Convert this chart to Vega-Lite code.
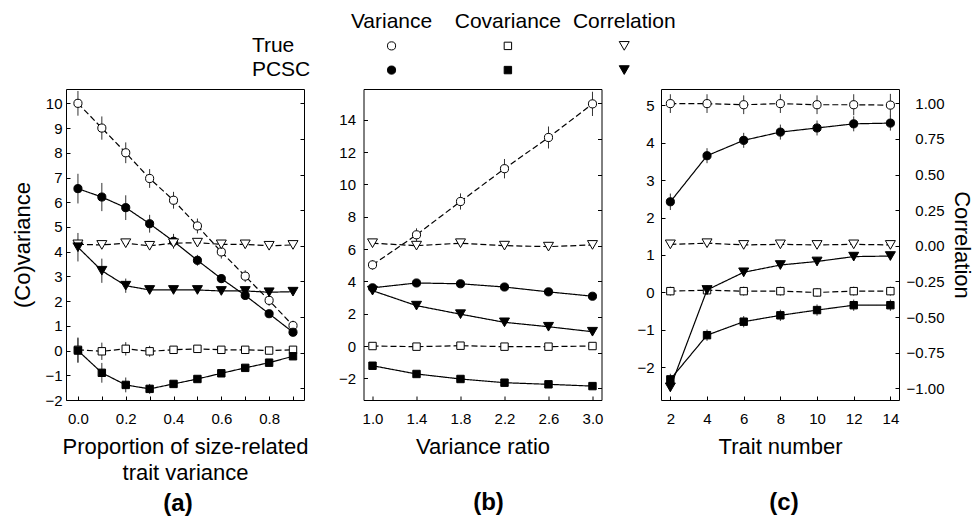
{
  "$schema": "https://vega.github.io/schema/vega-lite/v6.json",
  "padding": {"left": 11, "top": 0, "right": 0, "bottom": 0},
  "config": {
    "font": "Liberation Sans",
    "view": {"stroke": "black", "strokeWidth": 1},
    "axis": {"domain": false, "grid": false, "ticks": true, "tickSize": -4, "tickColor": "black", "tickWidth": 1, "labelFontSize": 15, "labelColor": "black", "labelPadding": 15, "labelOverlap": false, "labelFlush": false, "titleFontSize": 22, "titleFontWeight": "normal", "titleColor": "black", "titlePadding": 10},
    "title": {"fontSize": 24, "fontWeight": "bold", "color": "black"}
  },
  "datasets": {
    "pts": [
      {"p":"a","x":0,"s":"Variance","m":"True","v":10,"e":0.5},
      {"p":"a","x":0.1,"s":"Variance","m":"True","v":9,"e":0.47},
      {"p":"a","x":0.2,"s":"Variance","m":"True","v":8,"e":0.42},
      {"p":"a","x":0.3,"s":"Variance","m":"True","v":6.96,"e":0.38},
      {"p":"a","x":0.4,"s":"Variance","m":"True","v":6.08,"e":0.34},
      {"p":"a","x":0.5,"s":"Variance","m":"True","v":5.04,"e":0.3},
      {"p":"a","x":0.6,"s":"Variance","m":"True","v":3.99,"e":0.27},
      {"p":"a","x":0.7,"s":"Variance","m":"True","v":3.01,"e":0.24},
      {"p":"a","x":0.8,"s":"Variance","m":"True","v":2.03,"e":0.22},
      {"p":"a","x":0.9,"s":"Variance","m":"True","v":1.01,"e":0.2},
      {"p":"a","x":0,"s":"Variance","m":"PCSC","v":6.55,"e":0.6},
      {"p":"a","x":0.1,"s":"Variance","m":"PCSC","v":6.21,"e":0.57},
      {"p":"a","x":0.2,"s":"Variance","m":"PCSC","v":5.78,"e":0.5},
      {"p":"a","x":0.3,"s":"Variance","m":"PCSC","v":5.13,"e":0.36},
      {"p":"a","x":0.4,"s":"Variance","m":"PCSC","v":4.42,"e":0.3},
      {"p":"a","x":0.5,"s":"Variance","m":"PCSC","v":3.65,"e":0.22},
      {"p":"a","x":0.6,"s":"Variance","m":"PCSC","v":2.91,"e":0.18},
      {"p":"a","x":0.7,"s":"Variance","m":"PCSC","v":2.23,"e":0.15},
      {"p":"a","x":0.8,"s":"Variance","m":"PCSC","v":1.49,"e":0.12},
      {"p":"a","x":0.9,"s":"Variance","m":"PCSC","v":0.74,"e":0.1},
      {"p":"a","x":0,"s":"Covariance","m":"True","v":0.03,"e":0.5},
      {"p":"a","x":0.1,"s":"Covariance","m":"True","v":-0.03,"e":0.35},
      {"p":"a","x":0.2,"s":"Covariance","m":"True","v":0.07,"e":0.27},
      {"p":"a","x":0.3,"s":"Covariance","m":"True","v":-0.03,"e":0.22},
      {"p":"a","x":0.4,"s":"Covariance","m":"True","v":0.03,"e":0.15},
      {"p":"a","x":0.5,"s":"Covariance","m":"True","v":0.07,"e":0.12},
      {"p":"a","x":0.6,"s":"Covariance","m":"True","v":0.03,"e":0.1},
      {"p":"a","x":0.7,"s":"Covariance","m":"True","v":0.03,"e":0.1},
      {"p":"a","x":0.8,"s":"Covariance","m":"True","v":0,"e":0.08},
      {"p":"a","x":0.9,"s":"Covariance","m":"True","v":0.03,"e":0.08},
      {"p":"a","x":0,"s":"Covariance","m":"PCSC","v":0,"e":0.5},
      {"p":"a","x":0.1,"s":"Covariance","m":"PCSC","v":-0.9,"e":0.4},
      {"p":"a","x":0.2,"s":"Covariance","m":"PCSC","v":-1.39,"e":0.3},
      {"p":"a","x":0.3,"s":"Covariance","m":"PCSC","v":-1.55,"e":0.2},
      {"p":"a","x":0.4,"s":"Covariance","m":"PCSC","v":-1.35,"e":0.12},
      {"p":"a","x":0.5,"s":"Covariance","m":"PCSC","v":-1.15,"e":0.1},
      {"p":"a","x":0.6,"s":"Covariance","m":"PCSC","v":-0.92,"e":0.1},
      {"p":"a","x":0.7,"s":"Covariance","m":"PCSC","v":-0.7,"e":0.08},
      {"p":"a","x":0.8,"s":"Covariance","m":"PCSC","v":-0.49,"e":0.08},
      {"p":"a","x":0.9,"s":"Covariance","m":"PCSC","v":-0.23,"e":0.06},
      {"p":"a","x":0,"s":"Correlation","m":"True","v":0.01,"e":0.02},
      {"p":"a","x":0.1,"s":"Correlation","m":"True","v":0.006,"e":0.02},
      {"p":"a","x":0.2,"s":"Correlation","m":"True","v":0.018,"e":0.02},
      {"p":"a","x":0.3,"s":"Correlation","m":"True","v":0,"e":0.02},
      {"p":"a","x":0.4,"s":"Correlation","m":"True","v":0.018,"e":0.02},
      {"p":"a","x":0.5,"s":"Correlation","m":"True","v":0.022,"e":0.02},
      {"p":"a","x":0.6,"s":"Correlation","m":"True","v":0.01,"e":0.02},
      {"p":"a","x":0.7,"s":"Correlation","m":"True","v":0.01,"e":0.02},
      {"p":"a","x":0.8,"s":"Correlation","m":"True","v":0,"e":0.02},
      {"p":"a","x":0.9,"s":"Correlation","m":"True","v":0.006,"e":0.02},
      {"p":"a","x":0,"s":"Correlation","m":"PCSC","v":-0.01,"e":0.1},
      {"p":"a","x":0.1,"s":"Correlation","m":"PCSC","v":-0.175,"e":0.085},
      {"p":"a","x":0.2,"s":"Correlation","m":"PCSC","v":-0.28,"e":0.05},
      {"p":"a","x":0.3,"s":"Correlation","m":"PCSC","v":-0.31,"e":0.03},
      {"p":"a","x":0.4,"s":"Correlation","m":"PCSC","v":-0.31,"e":0.02},
      {"p":"a","x":0.5,"s":"Correlation","m":"PCSC","v":-0.31,"e":0.02},
      {"p":"a","x":0.6,"s":"Correlation","m":"PCSC","v":-0.317,"e":0.02},
      {"p":"a","x":0.7,"s":"Correlation","m":"PCSC","v":-0.317,"e":0.02},
      {"p":"a","x":0.8,"s":"Correlation","m":"PCSC","v":-0.326,"e":0.02},
      {"p":"a","x":0.9,"s":"Correlation","m":"PCSC","v":-0.322,"e":0.02},

      {"p":"b","x":1.0,"s":"Variance","m":"True","v":5.02,"e":0.3},
      {"p":"b","x":1.4,"s":"Variance","m":"True","v":6.88,"e":0.4},
      {"p":"b","x":1.8,"s":"Variance","m":"True","v":8.94,"e":0.5},
      {"p":"b","x":2.2,"s":"Variance","m":"True","v":10.97,"e":0.6},
      {"p":"b","x":2.6,"s":"Variance","m":"True","v":12.9,"e":0.68},
      {"p":"b","x":3.0,"s":"Variance","m":"True","v":14.98,"e":0.75},
      {"p":"b","x":1.0,"s":"Variance","m":"PCSC","v":3.6,"e":0.15},
      {"p":"b","x":1.4,"s":"Variance","m":"PCSC","v":3.9,"e":0.15},
      {"p":"b","x":1.8,"s":"Variance","m":"PCSC","v":3.85,"e":0.15},
      {"p":"b","x":2.2,"s":"Variance","m":"PCSC","v":3.65,"e":0.15},
      {"p":"b","x":2.6,"s":"Variance","m":"PCSC","v":3.35,"e":0.15},
      {"p":"b","x":3.0,"s":"Variance","m":"PCSC","v":3.08,"e":0.15},
      {"p":"b","x":1.0,"s":"Covariance","m":"True","v":0,"e":0.1},
      {"p":"b","x":1.4,"s":"Covariance","m":"True","v":-0.04,"e":0.1},
      {"p":"b","x":1.8,"s":"Covariance","m":"True","v":0.02,"e":0.1},
      {"p":"b","x":2.2,"s":"Covariance","m":"True","v":-0.04,"e":0.1},
      {"p":"b","x":2.6,"s":"Covariance","m":"True","v":-0.04,"e":0.1},
      {"p":"b","x":3.0,"s":"Covariance","m":"True","v":0,"e":0.1},
      {"p":"b","x":1.0,"s":"Covariance","m":"PCSC","v":-1.22,"e":0.1},
      {"p":"b","x":1.4,"s":"Covariance","m":"PCSC","v":-1.73,"e":0.1},
      {"p":"b","x":1.8,"s":"Covariance","m":"PCSC","v":-2.04,"e":0.1},
      {"p":"b","x":2.2,"s":"Covariance","m":"PCSC","v":-2.27,"e":0.1},
      {"p":"b","x":2.6,"s":"Covariance","m":"PCSC","v":-2.37,"e":0.1},
      {"p":"b","x":3.0,"s":"Covariance","m":"PCSC","v":-2.48,"e":0.1},
      {"p":"b","x":1.0,"s":"Correlation","m":"True","v":0.018,"e":0.02},
      {"p":"b","x":1.4,"s":"Correlation","m":"True","v":0.001,"e":0.02},
      {"p":"b","x":1.8,"s":"Correlation","m":"True","v":0.018,"e":0.02},
      {"p":"b","x":2.2,"s":"Correlation","m":"True","v":0.001,"e":0.02},
      {"p":"b","x":2.6,"s":"Correlation","m":"True","v":-0.006,"e":0.02},
      {"p":"b","x":3.0,"s":"Correlation","m":"True","v":0.006,"e":0.02},
      {"p":"b","x":1.0,"s":"Correlation","m":"PCSC","v":-0.315,"e":0.02},
      {"p":"b","x":1.4,"s":"Correlation","m":"PCSC","v":-0.42,"e":0.02},
      {"p":"b","x":1.8,"s":"Correlation","m":"PCSC","v":-0.48,"e":0.02},
      {"p":"b","x":2.2,"s":"Correlation","m":"PCSC","v":-0.537,"e":0.02},
      {"p":"b","x":2.6,"s":"Correlation","m":"PCSC","v":-0.568,"e":0.02},
      {"p":"b","x":3.0,"s":"Correlation","m":"PCSC","v":-0.603,"e":0.02},

      {"p":"c","x":2,"s":"Variance","m":"True","v":5.04,"e":0.25},
      {"p":"c","x":4,"s":"Variance","m":"True","v":5.04,"e":0.25},
      {"p":"c","x":6,"s":"Variance","m":"True","v":5.01,"e":0.25},
      {"p":"c","x":8,"s":"Variance","m":"True","v":5.04,"e":0.25},
      {"p":"c","x":10,"s":"Variance","m":"True","v":5.01,"e":0.25},
      {"p":"c","x":12,"s":"Variance","m":"True","v":5.01,"e":0.28},
      {"p":"c","x":14,"s":"Variance","m":"True","v":5.0,"e":0.3},
      {"p":"c","x":2,"s":"Variance","m":"PCSC","v":2.42,"e":0.22},
      {"p":"c","x":4,"s":"Variance","m":"PCSC","v":3.65,"e":0.2},
      {"p":"c","x":6,"s":"Variance","m":"PCSC","v":4.06,"e":0.2},
      {"p":"c","x":8,"s":"Variance","m":"PCSC","v":4.28,"e":0.2},
      {"p":"c","x":10,"s":"Variance","m":"PCSC","v":4.39,"e":0.2},
      {"p":"c","x":12,"s":"Variance","m":"PCSC","v":4.5,"e":0.2},
      {"p":"c","x":14,"s":"Variance","m":"PCSC","v":4.52,"e":0.2},
      {"p":"c","x":2,"s":"Covariance","m":"True","v":0.035,"e":0.12},
      {"p":"c","x":4,"s":"Covariance","m":"True","v":0.06,"e":0.12},
      {"p":"c","x":6,"s":"Covariance","m":"True","v":0.035,"e":0.12},
      {"p":"c","x":8,"s":"Covariance","m":"True","v":0.035,"e":0.12},
      {"p":"c","x":10,"s":"Covariance","m":"True","v":0,"e":0.12},
      {"p":"c","x":12,"s":"Covariance","m":"True","v":0.035,"e":0.12},
      {"p":"c","x":14,"s":"Covariance","m":"True","v":0.035,"e":0.12},
      {"p":"c","x":2,"s":"Covariance","m":"PCSC","v":-2.32,"e":0.15},
      {"p":"c","x":4,"s":"Covariance","m":"PCSC","v":-1.14,"e":0.15},
      {"p":"c","x":6,"s":"Covariance","m":"PCSC","v":-0.78,"e":0.15},
      {"p":"c","x":8,"s":"Covariance","m":"PCSC","v":-0.61,"e":0.15},
      {"p":"c","x":10,"s":"Covariance","m":"PCSC","v":-0.47,"e":0.15},
      {"p":"c","x":12,"s":"Covariance","m":"PCSC","v":-0.34,"e":0.15},
      {"p":"c","x":14,"s":"Covariance","m":"PCSC","v":-0.34,"e":0.15},
      {"p":"c","x":2,"s":"Correlation","m":"True","v":0.01,"e":0.02},
      {"p":"c","x":4,"s":"Correlation","m":"True","v":0.018,"e":0.02},
      {"p":"c","x":6,"s":"Correlation","m":"True","v":0.006,"e":0.02},
      {"p":"c","x":8,"s":"Correlation","m":"True","v":0.01,"e":0.02},
      {"p":"c","x":10,"s":"Correlation","m":"True","v":0.006,"e":0.02},
      {"p":"c","x":12,"s":"Correlation","m":"True","v":0.01,"e":0.02},
      {"p":"c","x":14,"s":"Correlation","m":"True","v":0.006,"e":0.02},
      {"p":"c","x":2,"s":"Correlation","m":"PCSC","v":-0.993,"e":0.03},
      {"p":"c","x":4,"s":"Correlation","m":"PCSC","v":-0.31,"e":0.03},
      {"p":"c","x":6,"s":"Correlation","m":"PCSC","v":-0.186,"e":0.03},
      {"p":"c","x":8,"s":"Correlation","m":"PCSC","v":-0.135,"e":0.03},
      {"p":"c","x":10,"s":"Correlation","m":"PCSC","v":-0.11,"e":0.03},
      {"p":"c","x":12,"s":"Correlation","m":"PCSC","v":-0.076,"e":0.03},
      {"p":"c","x":14,"s":"Correlation","m":"PCSC","v":-0.072,"e":0.03}
    ],
    "key": [
      {"kind":"header","label":"Variance","col":1,"row":0},
      {"kind":"header","label":"Covariance","col":2,"row":0},
      {"kind":"header","label":"Correlation","col":3,"row":0},
      {"kind":"rowlabel","label":"True","col":0,"row":1},
      {"kind":"rowlabel","label":"PCSC","col":0,"row":2},
      {"kind":"symbol","s":"Variance","m":"True","col":1,"row":1},
      {"kind":"symbol","s":"Covariance","m":"True","col":2,"row":1},
      {"kind":"symbol","s":"Correlation","m":"True","col":3,"row":1},
      {"kind":"symbol","s":"Variance","m":"PCSC","col":1,"row":2},
      {"kind":"symbol","s":"Covariance","m":"PCSC","col":2,"row":2},
      {"kind":"symbol","s":"Correlation","m":"PCSC","col":3,"row":2}
    ]
  },
  "bounds": "flush",
  "spacing": 9,
  "vconcat": [
    {
      "width": 832,
      "height": 80,
      "view": {"stroke": null},
      "data": {"name": "key"},
      "encoding": {
        "x": {"field": "col", "type": "quantitative", "scale": {"domain": [-1.798, 5.353], "nice": false, "zero": false}, "axis": null},
        "y": {"field": "row", "type": "quantitative", "scale": {"domain": [-0.896, 2.41], "nice": false, "zero": false, "reverse": true}, "axis": null}
      },
      "layer": [
        {
          "transform": [{"filter": "datum.kind == 'header'"}],
          "mark": {"type": "text", "fontSize": 21, "align": "center", "baseline": "middle", "color": "black"},
          "encoding": {"text": {"field": "label"}}
        },
        {
          "transform": [{"filter": "datum.kind == 'rowlabel'"}],
          "mark": {"type": "text", "fontSize": 21, "align": "left", "baseline": "middle", "dx": -23.3, "color": "black"},
          "encoding": {"text": {"field": "label"}}
        },
        {
          "transform": [{"filter": "datum.kind == 'symbol'"}],
          "mark": {"type": "point", "filled": true, "stroke": "black", "strokeWidth": 1, "opacity": 1},
          "encoding": {
            "shape": {"field": "s", "type": "nominal", "scale": {"domain": ["Variance", "Covariance", "Correlation"], "range": ["circle", "square", "triangle-down"]}, "legend": null},
            "fill": {"field": "m", "type": "nominal", "scale": {"domain": ["True", "PCSC"], "range": ["white", "black"]}, "legend": null},
            "size": {"field": "s", "type": "nominal", "scale": {"type": "ordinal", "domain": ["Variance", "Covariance", "Correlation"], "range": [66, 55, 100]}, "legend": null}
          }
        }
      ]
    },
    {
      "data": {"name": "pts"},
      "bounds": "flush",
      "spacing": 59.5,
      "hconcat": [
        {
          "width": 238,
          "height": 311,
          "title": {"text": "(a)", "orient": "bottom", "frame": "group", "offset": 8, "anchor": "middle", "dx": -7},
          "transform": [{"filter": "datum.p == 'a'"}],
          "encoding": {
            "x": {"field": "x", "type": "quantitative", "scale": {"domain": [-0.05, 0.946], "nice": false, "zero": false},
                  "axis": {"values": [0, 0.1, 0.2, 0.3, 0.4, 0.5, 0.6, 0.7, 0.8, 0.9], "labelExpr": "round(datum.value * 10) % 2 == 0 ? format(datum.value, '.1f') : ''", "title": ["Proportion of size-related", "trait variance"], "titleLineHeight": 26.6}}
          },
          "layer": [
            {
              "transform": [{"filter": "datum.s != 'Correlation'"}],
              "encoding": {
                "y": {"field": "v", "type": "quantitative", "scale": {"domain": [-2.0, 10.58], "nice": false, "zero": false},
                      "axis": {"orient": "left", "values": [-2, -1, 0, 1, 2, 3, 4, 5, 6, 7, 8, 9, 10], "format": "d", "title": "(Co)variance", "labelPadding": 8}}
              },
              "layer": [
                {"mark": {"type": "line", "color": "black", "strokeWidth": 1.2},
                 "encoding": {"detail": {"field": "s"}, "strokeDash": {"field": "m", "type": "nominal", "scale": {"domain": ["True", "PCSC"], "range": [[6, 3], [1, 0]]}, "legend": null}}},
                {"mark": {"type": "errorbar", "color": "#333333", "thickness": 1}, "encoding": {"yError": {"field": "e"}}},
                {"mark": {"type": "point", "filled": true, "stroke": "black", "strokeWidth": 1, "opacity": 1},
                 "encoding": {
                   "shape": {"field": "s", "type": "nominal", "scale": {"domain": ["Variance", "Covariance", "Correlation"], "range": ["circle", "square", "triangle-down"]}, "legend": null},
                   "fill": {"field": "m", "type": "nominal", "scale": {"domain": ["True", "PCSC"], "range": ["white", "black"]}, "legend": null},
                   "size": {"field": "s", "type": "nominal", "scale": {"type": "ordinal", "domain": ["Variance", "Covariance", "Correlation"], "range": [66, 55, 100]}, "legend": null}
                 }}
              ]
            },
            {
              "transform": [{"filter": "datum.s == 'Correlation'"}],
              "encoding": {
                "y": {"field": "v", "type": "quantitative", "scale": {"domain": [-1.082, 1.1], "nice": false, "zero": false},
                      "axis": {"orient": "right", "values": [-1, -0.75, -0.5, -0.25, 0, 0.25, 0.5, 0.75, 1], "labels": false, "title": null}}
              },
              "layer": [
                {"mark": {"type": "line", "color": "black", "strokeWidth": 1.2},
                 "encoding": {"detail": {"field": "s"}, "strokeDash": {"field": "m", "type": "nominal", "scale": {"domain": ["True", "PCSC"], "range": [[6, 3], [1, 0]]}, "legend": null}}},
                {"mark": {"type": "errorbar", "color": "#333333", "thickness": 1}, "encoding": {"yError": {"field": "e"}}},
                {"mark": {"type": "point", "filled": true, "stroke": "black", "strokeWidth": 1, "opacity": 1},
                 "encoding": {
                   "shape": {"field": "s", "type": "nominal", "scale": {"domain": ["Variance", "Covariance", "Correlation"], "range": ["circle", "square", "triangle-down"]}, "legend": null},
                   "fill": {"field": "m", "type": "nominal", "scale": {"domain": ["True", "PCSC"], "range": ["white", "black"]}, "legend": null},
                   "size": {"field": "s", "type": "nominal", "scale": {"type": "ordinal", "domain": ["Variance", "Covariance", "Correlation"], "range": [66, 55, 100]}, "legend": null}
                 }}
              ]
            }
          ],
          "resolve": {"scale": {"y": "independent"}}
        },
        {
          "width": 238,
          "height": 311,
          "title": {"text": "(b)", "orient": "bottom", "frame": "group", "offset": 34, "anchor": "middle", "dx": 6},
          "transform": [{"filter": "datum.p == 'b'"}],
          "encoding": {
            "x": {"field": "x", "type": "quantitative", "scale": {"domain": [0.918, 3.082], "nice": false, "zero": false},
                  "axis": {"values": [1.0, 1.4, 1.8, 2.2, 2.6, 3.0], "format": ".1f", "title": "Variance ratio"}}
          },
          "layer": [
            {
              "transform": [{"filter": "datum.s != 'Correlation'"}],
              "encoding": {
                "y": {"field": "v", "type": "quantitative", "scale": {"domain": [-3.34, 15.9], "nice": false, "zero": false},
                      "axis": {"orient": "left", "values": [-2, 0, 2, 4, 6, 8, 10, 12, 14], "format": "d", "title": null, "labelPadding": 12}}
              },
              "layer": [
                {"mark": {"type": "line", "color": "black", "strokeWidth": 1.2},
                 "encoding": {"detail": {"field": "s"}, "strokeDash": {"field": "m", "type": "nominal", "scale": {"domain": ["True", "PCSC"], "range": [[6, 3], [1, 0]]}, "legend": null}}},
                {"mark": {"type": "errorbar", "color": "#333333", "thickness": 1}, "encoding": {"yError": {"field": "e"}}},
                {"mark": {"type": "point", "filled": true, "stroke": "black", "strokeWidth": 1, "opacity": 1},
                 "encoding": {
                   "shape": {"field": "s", "type": "nominal", "scale": {"domain": ["Variance", "Covariance", "Correlation"], "range": ["circle", "square", "triangle-down"]}, "legend": null},
                   "fill": {"field": "m", "type": "nominal", "scale": {"domain": ["True", "PCSC"], "range": ["white", "black"]}, "legend": null},
                   "size": {"field": "s", "type": "nominal", "scale": {"type": "ordinal", "domain": ["Variance", "Covariance", "Correlation"], "range": [66, 55, 100]}, "legend": null}
                 }}
              ]
            },
            {
              "transform": [{"filter": "datum.s == 'Correlation'"}],
              "encoding": {
                "y": {"field": "v", "type": "quantitative", "scale": {"domain": [-1.082, 1.1], "nice": false, "zero": false},
                      "axis": {"orient": "right", "values": [-1, -0.75, -0.5, -0.25, 0, 0.25, 0.5, 0.75, 1], "labels": false, "title": null}}
              },
              "layer": [
                {"mark": {"type": "line", "color": "black", "strokeWidth": 1.2},
                 "encoding": {"detail": {"field": "s"}, "strokeDash": {"field": "m", "type": "nominal", "scale": {"domain": ["True", "PCSC"], "range": [[6, 3], [1, 0]]}, "legend": null}}},
                {"mark": {"type": "errorbar", "color": "#333333", "thickness": 1}, "encoding": {"yError": {"field": "e"}}},
                {"mark": {"type": "point", "filled": true, "stroke": "black", "strokeWidth": 1, "opacity": 1},
                 "encoding": {
                   "shape": {"field": "s", "type": "nominal", "scale": {"domain": ["Variance", "Covariance", "Correlation"], "range": ["circle", "square", "triangle-down"]}, "legend": null},
                   "fill": {"field": "m", "type": "nominal", "scale": {"domain": ["True", "PCSC"], "range": ["white", "black"]}, "legend": null},
                   "size": {"field": "s", "type": "nominal", "scale": {"type": "ordinal", "domain": ["Variance", "Covariance", "Correlation"], "range": [66, 55, 100]}, "legend": null}
                 }}
              ]
            }
          ],
          "resolve": {"scale": {"y": "independent"}}
        },
        {
          "width": 238,
          "height": 311,
          "title": {"text": "(c)", "orient": "bottom", "frame": "group", "offset": 34, "anchor": "middle", "dx": 4},
          "transform": [{"filter": "datum.p == 'c'"}],
          "encoding": {
            "x": {"field": "x", "type": "quantitative", "scale": {"domain": [1.49, 14.47], "nice": false, "zero": false},
                  "axis": {"values": [2, 4, 6, 8, 10, 12, 14], "format": "d", "title": "Trait number"}}
          },
          "layer": [
            {
              "transform": [{"filter": "datum.s != 'Correlation'"}],
              "encoding": {
                "y": {"field": "v", "type": "quantitative", "scale": {"domain": [-2.87, 5.43], "nice": false, "zero": false},
                      "axis": {"orient": "left", "values": [-2, -1, 0, 1, 2, 3, 4, 5], "format": "d", "title": null, "labelPadding": 11}}
              },
              "layer": [
                {"mark": {"type": "line", "color": "black", "strokeWidth": 1.2},
                 "encoding": {"detail": {"field": "s"}, "strokeDash": {"field": "m", "type": "nominal", "scale": {"domain": ["True", "PCSC"], "range": [[6, 3], [1, 0]]}, "legend": null}}},
                {"mark": {"type": "errorbar", "color": "#333333", "thickness": 1}, "encoding": {"yError": {"field": "e"}}},
                {"mark": {"type": "point", "filled": true, "stroke": "black", "strokeWidth": 1, "opacity": 1},
                 "encoding": {
                   "shape": {"field": "s", "type": "nominal", "scale": {"domain": ["Variance", "Covariance", "Correlation"], "range": ["circle", "square", "triangle-down"]}, "legend": null},
                   "fill": {"field": "m", "type": "nominal", "scale": {"domain": ["True", "PCSC"], "range": ["white", "black"]}, "legend": null},
                   "size": {"field": "s", "type": "nominal", "scale": {"type": "ordinal", "domain": ["Variance", "Covariance", "Correlation"], "range": [66, 55, 100]}, "legend": null}
                 }}
              ]
            },
            {
              "transform": [{"filter": "datum.s == 'Correlation'"}],
              "encoding": {
                "y": {"field": "v", "type": "quantitative", "scale": {"domain": [-1.082, 1.1], "nice": false, "zero": false},
                      "axis": {"orient": "right", "values": [-1, -0.75, -0.5, -0.25, 0, 0.25, 0.5, 0.75, 1], "format": ".2f", "labelAlign": "right", "labelPadding": 49, "title": "Correlation", "titlePadding": 5}}
              },
              "layer": [
                {"mark": {"type": "line", "color": "black", "strokeWidth": 1.2},
                 "encoding": {"detail": {"field": "s"}, "strokeDash": {"field": "m", "type": "nominal", "scale": {"domain": ["True", "PCSC"], "range": [[6, 3], [1, 0]]}, "legend": null}}},
                {"mark": {"type": "errorbar", "color": "#333333", "thickness": 1}, "encoding": {"yError": {"field": "e"}}},
                {"mark": {"type": "point", "filled": true, "stroke": "black", "strokeWidth": 1, "opacity": 1},
                 "encoding": {
                   "shape": {"field": "s", "type": "nominal", "scale": {"domain": ["Variance", "Covariance", "Correlation"], "range": ["circle", "square", "triangle-down"]}, "legend": null},
                   "fill": {"field": "m", "type": "nominal", "scale": {"domain": ["True", "PCSC"], "range": ["white", "black"]}, "legend": null},
                   "size": {"field": "s", "type": "nominal", "scale": {"type": "ordinal", "domain": ["Variance", "Covariance", "Correlation"], "range": [66, 55, 100]}, "legend": null}
                 }}
              ]
            }
          ],
          "resolve": {"scale": {"y": "independent"}}
        }
      ]
    }
  ]
}
